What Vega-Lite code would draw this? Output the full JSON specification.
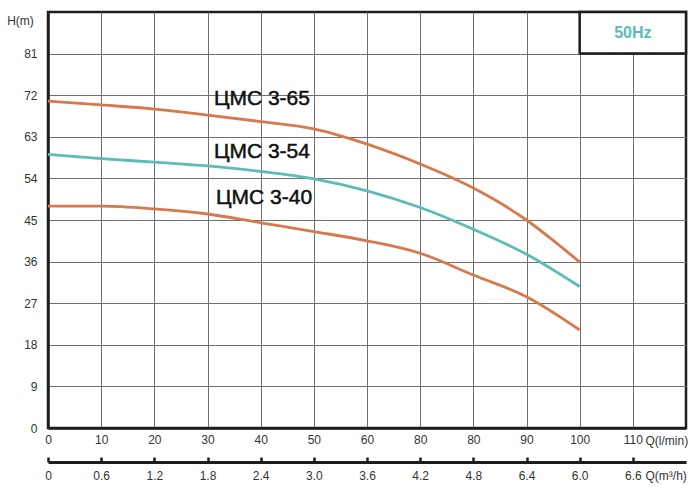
{
  "$schema": "https://vega.github.io/schema/vega-lite/v6.json",
  "width": 638,
  "height": 416,
  "autosize": {"type": "none"},
  "padding": {"left": 48, "top": 12, "right": 14, "bottom": 70},
  "background": "white",
  "config": {
    "view": {"stroke": "#1e1e1e", "strokeWidth": 2.5},
    "axis": {
      "labelFont": "Liberation Sans",
      "labelFontSize": 12,
      "labelColor": "#333333",
      "titleFont": "Liberation Sans",
      "titleFontSize": 12,
      "titleFontWeight": "normal",
      "titleColor": "#333333",
      "gridColor": "#707070",
      "gridWidth": 1,
      "gridOpacity": 1,
      "domainColor": "#1e1e1e",
      "domainWidth": 2.5
    }
  },
  "datasets": {
    "curves": [
      {"model": "ЦМС 3-65", "Q": 0, "H": 70.7},
      {"model": "ЦМС 3-65", "Q": 10, "H": 69.9},
      {"model": "ЦМС 3-65", "Q": 20, "H": 69.0},
      {"model": "ЦМС 3-65", "Q": 30, "H": 67.7},
      {"model": "ЦМС 3-65", "Q": 40, "H": 66.3},
      {"model": "ЦМС 3-65", "Q": 50, "H": 64.7},
      {"model": "ЦМС 3-65", "Q": 60, "H": 61.4},
      {"model": "ЦМС 3-65", "Q": 70, "H": 57.1},
      {"model": "ЦМС 3-65", "Q": 80, "H": 51.9},
      {"model": "ЦМС 3-65", "Q": 90, "H": 45.0},
      {"model": "ЦМС 3-65", "Q": 95, "H": 40.6},
      {"model": "ЦМС 3-65", "Q": 100, "H": 35.9},
      {"model": "ЦМС 3-54", "Q": 0, "H": 59.2},
      {"model": "ЦМС 3-54", "Q": 10, "H": 58.3},
      {"model": "ЦМС 3-54", "Q": 20, "H": 57.5},
      {"model": "ЦМС 3-54", "Q": 30, "H": 56.7},
      {"model": "ЦМС 3-54", "Q": 40, "H": 55.5},
      {"model": "ЦМС 3-54", "Q": 50, "H": 53.9},
      {"model": "ЦМС 3-54", "Q": 60, "H": 51.3},
      {"model": "ЦМС 3-54", "Q": 70, "H": 47.7},
      {"model": "ЦМС 3-54", "Q": 80, "H": 43.0},
      {"model": "ЦМС 3-54", "Q": 90, "H": 37.6},
      {"model": "ЦМС 3-54", "Q": 100, "H": 30.6},
      {"model": "ЦМС 3-40", "Q": 0, "H": 48.0},
      {"model": "ЦМС 3-40", "Q": 10, "H": 48.0},
      {"model": "ЦМС 3-40", "Q": 20, "H": 47.4},
      {"model": "ЦМС 3-40", "Q": 30, "H": 46.3},
      {"model": "ЦМС 3-40", "Q": 40, "H": 44.4},
      {"model": "ЦМС 3-40", "Q": 50, "H": 42.5},
      {"model": "ЦМС 3-40", "Q": 60, "H": 40.5},
      {"model": "ЦМС 3-40", "Q": 70, "H": 37.8},
      {"model": "ЦМС 3-40", "Q": 80, "H": 33.1},
      {"model": "ЦМС 3-40", "Q": 90, "H": 28.4},
      {"model": "ЦМС 3-40", "Q": 100, "H": 21.2}
    ],
    "labels": [
      {"label": "ЦМС 3-65", "Q": 31.2, "H": 71.2},
      {"label": "ЦМС 3-54", "Q": 31.2, "H": 59.8},
      {"label": "ЦМС 3-40", "Q": 31.6, "H": 49.7}
    ],
    "box": [{"Q1": 100, "Q2": 120, "H1": 81, "H2": 90, "text": "50Hz", "Qm": 110, "Hm": 85.5}],
    "m3h": [
      {"v": 0}, {"v": 0.6}, {"v": 1.2}, {"v": 1.8}, {"v": 2.4}, {"v": 3.0},
      {"v": 3.6}, {"v": 4.2}, {"v": 4.8}, {"v": 5.4}, {"v": 6.0}, {"v": 6.6}
    ]
  },
  "layer": [
    {
      "layer": [
        {
          "data": {"name": "box"},
          "mark": {"type": "rect", "fill": "white", "stroke": "#1e1e1e", "strokeWidth": 2.5},
          "encoding": {
            "x": {"field": "Q1", "type": "quantitative"},
            "x2": {"field": "Q2"},
            "y": {"field": "H1", "type": "quantitative"},
            "y2": {"field": "H2"}
          }
        },
        {
          "data": {"name": "box"},
          "mark": {"type": "text", "font": "Liberation Sans", "fontWeight": "bold", "fontSize": 16, "color": "#5bbdb4", "align": "center", "baseline": "middle"},
          "encoding": {
            "x": {"field": "Qm", "type": "quantitative"},
            "y": {"field": "Hm", "type": "quantitative"},
            "text": {"field": "text"}
          }
        },
        {
          "data": {"name": "curves"},
          "mark": {"type": "line", "interpolate": "monotone", "strokeWidth": 2.8},
          "encoding": {
            "x": {
              "field": "Q", "type": "quantitative",
              "scale": {"domain": [0, 120], "nice": false, "zero": true},
              "axis": {
                "orient": "bottom",
                "values": [0, 10, 20, 30, 40, 50, 60, 70, 80, 90, 100, 110],
                "labelExpr": "datum.value == 70 ? '80' : datum.label",
                "ticks": false,
                "labelPadding": 6,
                "labelFlush": false,
                "labelOverlap": false,
                "grid": true,
                "title": "Q(l/min)",
                "titleX": 597,
                "titleY": 12,
                "titleAlign": "left",
                "titleBaseline": "middle"
              }
            },
            "y": {
              "field": "H", "type": "quantitative",
              "scale": {"domain": [0, 90], "nice": false, "zero": true},
              "axis": {
                "values": [0, 9, 18, 27, 36, 45, 54, 63, 72, 81],
                "ticks": false,
                "labelPadding": 11,
                "labelOverlap": false,
                "labelFlush": false,
                "grid": true,
                "title": "H(m)",
                "titleAngle": 0,
                "titleX": -28,
                "titleY": 8,
                "titleAlign": "center",
                "titleBaseline": "middle"
              }
            },
            "color": {
              "field": "model", "type": "nominal",
              "scale": {"domain": ["ЦМС 3-65", "ЦМС 3-54", "ЦМС 3-40"], "range": ["#d8794d", "#5bbdb4", "#d8794d"]},
              "legend": null
            },
            "detail": {"field": "model"}
          }
        },
        {
          "data": {"name": "labels"},
          "mark": {"type": "text", "font": "Liberation Sans", "fontSize": 21, "color": "#111111", "stroke": "#111111", "strokeWidth": 0.5, "align": "left", "baseline": "middle"},
          "encoding": {
            "x": {"field": "Q", "type": "quantitative"},
            "y": {"field": "H", "type": "quantitative"},
            "text": {"field": "label"}
          }
        }
      ]
    },
    {
      "data": {"name": "m3h"},
      "mark": {"type": "rule", "strokeOpacity": 0},
      "encoding": {
        "x": {
          "field": "v", "type": "quantitative",
          "scale": {"domain": [0, 7.2], "nice": false, "zero": true},
          "axis": {
            "orient": "bottom",
            "offset": 34,
            "values": [0, 0.6, 1.2, 1.8, 2.4, 3.0, 3.6, 4.2, 4.8, 5.4, 6.0, 6.6],
            "labelExpr": "datum.value == 0 ? '0' : (abs(datum.value - 5.4) < 0.01 ? '6.4' : format(datum.value, '.1f'))",
            "grid": false,
            "ticks": true,
            "tickSize": -5,
            "tickWidth": 2.5,
            "tickColor": "#1e1e1e",
            "domainWidth": 3,
            "labelPadding": 13,
            "labelFlush": false,
            "labelOverlap": false,
            "title": "Q(m³/h)",
            "titleX": 597,
            "titleY": 13,
            "titleAlign": "left",
            "titleBaseline": "middle"
          }
        }
      }
    }
  ],
  "resolve": {"scale": {"x": "independent"}, "axis": {"x": "independent"}}
}
